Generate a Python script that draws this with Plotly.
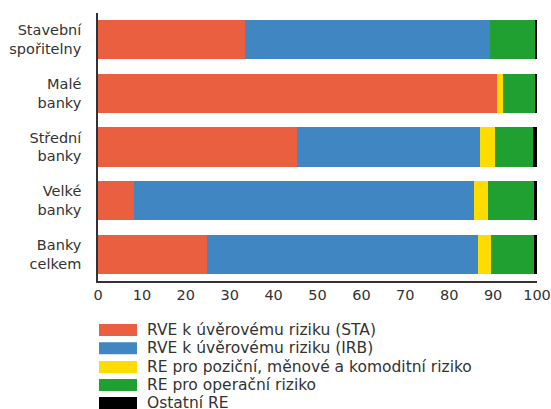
import plotly.graph_objects as go

# ===============================
# DATA
# ===============================
categories = ["Stavební<br>spořitelny", "Malé<br>banky", "Střední<br>banky", "Velké<br>banky", "Banky<br>celkem"]

series_names = [
    "RVE k úvěrovému riziku (STA)",
    "RVE k úvěrovému riziku (IRB)",
    "RE pro poziční, měnové a komoditní riziko",
    "RE pro operační riziko",
    "Ostatní RE",
]

sta = [33.4, 90.9, 45.3, 8.3, 24.9]
irb = [55.8, 0.0, 41.7, 77.3, 61.6]
pozicni = [0.0, 1.3, 3.4, 3.2, 3.0]
operacni = [10.5, 7.5, 8.7, 10.5, 9.8]
ostatni = [0.3, 0.3, 0.9, 0.7, 0.7]

x_ticks = [0, 10, 20, 30, 40, 50, 60, 70, 80, 90, 100]

colors = ["#E95F40", "#4086C2", "#FFDC00", "#1FA030", "#000000"]

# ===============================
# LAYOUT CONSTANTS
# ===============================
W, H = 551, 409
M_L, M_R, M_T, M_B = 98, 14, 13, 128
FONT = "DejaVu Sans"
TEXT = "#333333"

plot_w = W - M_L - M_R
plot_h = H - M_T - M_B


def px_x(px):
    return (px - M_L) / plot_w


def px_y(py):
    return (H - M_B - py) / plot_h


fig = go.Figure()

for name, vals, col in zip(series_names, [sta, irb, pozicni, operacni, ostatni], colors):
    fig.add_trace(go.Bar(
        y=categories,
        x=vals,
        name=name,
        orientation="h",
        marker=dict(color=col, line=dict(width=0)),
        showlegend=False,
    ))

# ===============================
# CUSTOM LEGEND (wide swatches)
# ===============================
shapes = []
annotations = []
row_y = [330, 348.3, 367, 385, 403]
for name, col, cy in zip(series_names, colors, row_y):
    shapes.append(dict(
        type="rect", xref="paper", yref="paper",
        x0=px_x(99), x1=px_x(137),
        y0=px_y(cy + 6), y1=px_y(cy - 6),
        fillcolor=col, line=dict(width=0),
    ))
    annotations.append(dict(
        x=px_x(145), y=px_y(cy), xref="paper", yref="paper",
        text=name, showarrow=False, xanchor="left", yanchor="middle",
        font=dict(family=FONT, size=15.5, color=TEXT),
    ))

fig.update_layout(
    width=W, height=H,
    barmode="stack",
    bargap=0.27,
    margin=dict(l=M_L, r=M_R, t=M_T, b=M_B),
    paper_bgcolor="white",
    plot_bgcolor="white",
    shapes=shapes,
    annotations=annotations,
    font=dict(family=FONT, color=TEXT),
)

fig.update_xaxes(
    range=[0, 100],
    tickvals=x_ticks,
    showgrid=False,
    zeroline=False,
    showline=True,
    linecolor="#333333",
    linewidth=1.5,
    ticks="",
    automargin=False,
    tickfont=dict(family=FONT, size=14.5, color=TEXT),
)

fig.update_yaxes(
    autorange="reversed",
    showgrid=False,
    zeroline=False,
    showline=True,
    linecolor="#333333",
    linewidth=1.5,
    ticks="",
    automargin=False,
    ticklabelstandoff=12,
    tickfont=dict(family=FONT, size=14.5, color=TEXT),
)

# page body has a default 8px margin; remove it so the figure sits at the corner
fig.write_html(
    "out.html",
    config={"displayModeBar": False},
    post_script="document.body.style.margin = '0';",
)
